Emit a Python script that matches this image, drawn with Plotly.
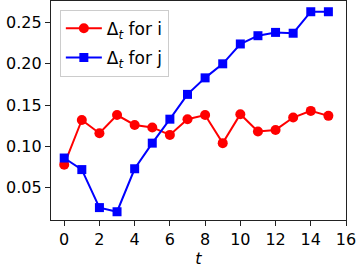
import plotly.graph_objects as go

t = list(range(16))
delta_i = [0.078, 0.132, 0.116, 0.138, 0.126, 0.123, 0.114, 0.133, 0.138, 0.104,
           0.139, 0.118, 0.120, 0.135, 0.143, 0.137]
delta_j = [0.086, 0.072, 0.026, 0.021, 0.073, 0.104, 0.133, 0.163, 0.183, 0.200,
           0.224, 0.234, 0.238, 0.237, 0.263, 0.263]
x_ticks = [0, 2, 4, 6, 8, 10, 12, 14, 16]
y_ticks = [0.05, 0.10, 0.15, 0.20, 0.25]

fig = go.Figure()
fig.add_trace(go.Scatter(x=t, y=delta_i, mode="lines+markers",
                         name="Δ<sub><i>t</i></sub> for i", legendgroup="i",
                         line=dict(color="red", width=2),
                         marker=dict(symbol="circle", size=10, color="red")))
fig.add_trace(go.Scatter(x=t, y=delta_j, mode="lines+markers",
                         name="Δ<sub><i>t</i></sub> for j", legendgroup="j",
                         line=dict(color="blue", width=2),
                         marker=dict(symbol="square", size=9, color="blue")))

axis_common = dict(showline=True, linecolor="#222", linewidth=1.2, mirror=True,
                   ticks="outside", ticklen=5, tickwidth=1.2, tickcolor="#222",
                   showgrid=False, zeroline=False, ticklabeloverflow="allow",
                   tickfont=dict(family="DejaVu Sans", size=16, color="black"))

fig.update_layout(
    width=359, height=272,
    margin=dict(l=51, r=13, t=1, b=52),
    plot_bgcolor="white", paper_bgcolor="white",
    font=dict(family="DejaVu Sans", size=16, color="black"),
    xaxis=dict(range=[-0.75, 16], tickvals=x_ticks,
               title=dict(text="<i>t</i>", standoff=4,
                          font=dict(family="DejaVu Sans", size=16)),
               **axis_common),
    yaxis=dict(range=[0.011, 0.276], tickvals=y_ticks, tickformat=".2f",
               **axis_common),
    legend=dict(x=0.03, y=0.96, xanchor="left", yanchor="top",
                bgcolor="rgba(255,255,255,0.8)", bordercolor="#ccc", borderwidth=1,
                tracegroupgap=4, itemwidth=36,
                font=dict(family="DejaVu Sans", size=17)),
    showlegend=True,
)

fig.write_html("out.html", config={"displayModeBar": False},
               post_script="document.body.style.margin='0';document.body.style.overflow='hidden';")
